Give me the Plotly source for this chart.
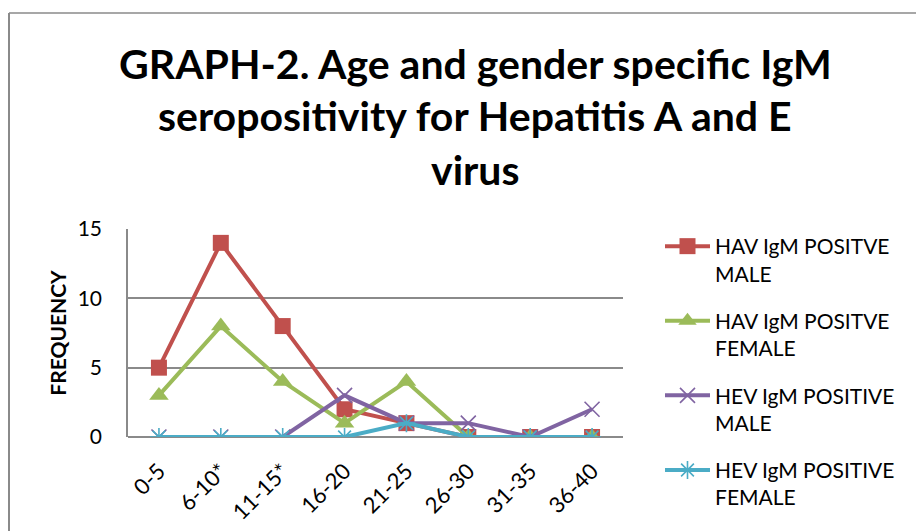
import plotly.graph_objects as go

categories = ["0-5", "6-10*", "11-15*", "16-20", "21-25", "26-30", "31-35", "36-40"]
hav_male = [5, 14, 8, 2, 1, 0, 0, 0]
hav_female = [3, 8, 4, 1, 4, 0, 0, 0]
hev_male = [0, 0, 0, 3, 1, 1, 0, 2]
hev_female = [0, 0, 0, 0, 1, 0, 0, 0]

series_names = [
    "HAV IgM POSITVE<br>MALE",
    "HAV IgM POSITVE<br>FEMALE",
    "HEV IgM POSITIVE<br>MALE",
    "HEV IgM POSITIVE<br>FEMALE",
]
title_lines = [
    "GRAPH-2. Age and gender specific IgM",
    "seropositivity for Hepatitis A and E",
    "virus",
]

FONT = "Lato"
OFF = 8  # page body margin
W, H = 924 - OFF, 531 - OFF
# plot area in reference pixels: x 128..623, y 229..437
PL, PR, PT, PB = 128, 623, 229, 437
L, R, T, B = PL - OFF, W - (PR - OFF), PT - OFF, H - (PB - OFF)
pw, ph = PR - PL, PB - PT

def px_x(p):
    return (p - PL) / pw

def px_y(p):
    return (PB - p) / ph

fig = go.Figure()
styles = [
    (hav_male, "#C0504D", dict(symbol="square", size=16, color="#C0504D")),
    (hav_female, "#9BBB59", dict(symbol="triangle-up", size=17, color="#9BBB59")),
    (hev_male, "#8064A2", dict(symbol="x-thin-open", size=15, color="#8064A2", line=dict(width=1.6, color="#8064A2"))),
    (hev_female, "#4BACC6", dict(symbol="asterisk-open", size=15, color="#4BACC6", line=dict(width=1.6, color="#4BACC6"))),
]
for i, (vals, col, mk) in enumerate(styles):
    fig.add_trace(go.Scatter(
        x=categories, y=vals, name=series_names[i], mode="lines+markers",
        line=dict(color=col, width=4), marker=mk, legendgroup=str(i),
    ))

annotations = []
for i, line in enumerate(title_lines):
    annotations.append(dict(
        text=f"<b>{line}</b>", xref="paper", yref="paper",
        x=px_x(475), y=px_y(63 + i * 53), xanchor="center", yanchor="middle",
        showarrow=False, font=dict(family=FONT, size=41, color="black"),
    ))

fig.update_layout(
    width=W, height=H,
    margin=dict(l=L, r=R, t=T, b=B, pad=0, autoexpand=False),
    paper_bgcolor="white", plot_bgcolor="white",
    font=dict(family=FONT, color="black"),
    showlegend=True,
    legend=dict(
        x=px_x(660), y=px_y(226), xanchor="left", yanchor="top",
        font=dict(family=FONT, size=21, color="black"),
        tracegroupgap=17, traceorder="grouped", valign="top",
        itemwidth=45, bgcolor="rgba(0,0,0,0)", maxheight=600,
    ),
    annotations=annotations,
    shapes=[
        dict(type="line", xref="paper", yref="paper", x0=px_x(9), x1=px_x(9),
             y0=px_y(13), y1=px_y(560), line=dict(color="#8a8a8a", width=2)),
        dict(type="line", xref="paper", yref="paper", x0=px_x(9), x1=px_x(950),
             y0=px_y(13), y1=px_y(13), line=dict(color="#8a8a8a", width=1.5)),
    ],
)
fig.update_xaxes(
    type="category", range=[-0.5, 7.5], tickangle=-45,
    tickfont=dict(family=FONT, size=22, color="black"),
    showgrid=False, showline=False, zeroline=False, ticks="",
    ticklabelstandoff=16, automargin=False,
)
fig.update_yaxes(
    range=[0, 15], tickvals=[0, 5, 10, 15], showgrid=True,
    gridcolor="#8a8a8a", gridwidth=1.5, zeroline=True, zerolinecolor="#8a8a8a",
    zerolinewidth=1.5, showline=True, linecolor="#8a8a8a", linewidth=1.5,
    tickfont=dict(family=FONT, size=21, color="black"), ticks="", ticklen=0,
    ticklabelstandoff=20, automargin=False,
    title=dict(text="<b>FREQUENCY</b>", font=dict(family=FONT, size=21, color="black"), standoff=5),
)

fig.write_html("out.html")
